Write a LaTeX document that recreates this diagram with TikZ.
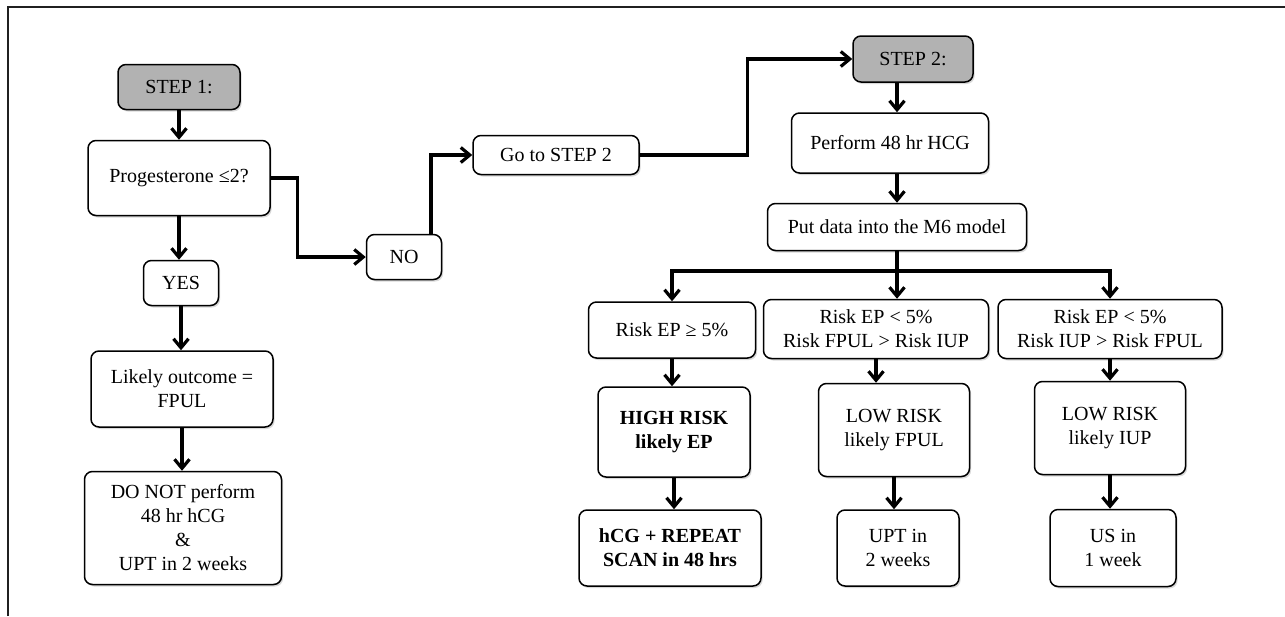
\documentclass[tikz,border=0pt]{standalone}
\usepackage{fontspec}
\setmainfont{Liberation Serif}
\usetikzlibrary{arrows.meta,shadows}
\begin{document}
\begin{tikzpicture}[x=0.5pt, y=-0.5pt,
    box/.style={draw, line width=0.75pt, rounded corners=4pt, fill=white,
      align=center, inner sep=0pt, font=\fontsize{10}{12}\selectfont,
      drop shadow={shadow xshift=0.8pt, shadow yshift=-1pt, opacity=0.3}},
    stepbox/.style={box, fill=gray!60},
    arrow/.style={line width=1.6pt, -{Straight Barb[length=4.5pt, width=7.5pt]}},
    link/.style={line width=1.6pt}]
  \useasboundingbox (0,0) rectangle (1285,616);
  \draw[line width=1pt, gray!25!black] (8,616) -- (8,7) -- (1285,7);

  \node[stepbox, minimum width=61pt, minimum height=22.5pt] (step1) at (179,87) {STEP 1:};
  \node[box, minimum width=91pt, minimum height=37.5pt] (prog) at (179,178) {Progesterone ≤2?};
  \node[box, minimum width=37.5pt, minimum height=22.5pt] (yes) at (181,283) {YES};
  \node[box, minimum width=91pt, minimum height=38pt] (likely) at (182,389) {Likely outcome =\\FPUL};
  \node[box, minimum width=98.5pt, minimum height=56.5pt] (donot) at (183,528)
    {DO NOT perform\\48 hr hCG\\\&\\UPT in 2 weeks};
  \node[box, minimum width=37.5pt, minimum height=22.5pt] (no) at (404,257) {NO};
  \node[box, minimum width=83pt, minimum height=19.5pt] (go) at (556,155) {Go to STEP 2};

  \node[stepbox, minimum width=60pt, minimum height=23pt] (step2) at (913,59) {STEP 2:};
  \node[box, minimum width=98.5pt, minimum height=30pt] (perform) at (890,143) {Perform 48 hr HCG};
  \node[box, minimum width=129.5pt, minimum height=23.5pt] (put) at (897,227) {Put data into the M6 model};

  \node[box, minimum width=83.5pt, minimum height=28pt] (risk0) at (672,330) {Risk EP ≥ 5\%};
  \node[box, minimum width=112.5pt, minimum height=29.5pt] (risk1) at (876,329)
    {Risk EP < 5\%\\Risk FPUL > Risk IUP};
  \node[box, minimum width=112pt, minimum height=29.5pt] (risk2) at (1110,329)
    {Risk EP < 5\%\\Risk IUP > Risk FPUL};

  \node[box, minimum width=76pt, minimum height=45pt] (class0) at (674,432) {\bfseries HIGH RISK\\\bfseries likely EP};
  \node[box, minimum width=75.5pt, minimum height=46.5pt] (class1) at (894,430) {LOW RISK\\likely FPUL};
  \node[box, minimum width=75.5pt, minimum height=46.5pt] (class2) at (1110,428) {LOW RISK\\likely IUP};

  \node[box, minimum width=91pt, minimum height=38pt] (plan0) at (670,548)
    {\bfseries hCG + REPEAT\\\bfseries SCAN in 48 hrs};
  \node[box, minimum width=61pt, minimum height=38pt] (plan1) at (898,548) {UPT in\\2 weeks};
  \node[box, minimum width=63pt, minimum height=38.5pt] (plan2) at (1113,548) {US in\\1 week};

  \foreach \a/\b in {step1/prog, prog/yes, yes/likely, likely/donot}
  {
    \draw[arrow] (\a.south) -- (\a.south |- \b.north);
  }

  \draw[arrow] (prog.east) -- ++(27,0) |- (no.west);
  \draw[arrow] ([xshift=13.5pt]no.north) |- (go.west);
  \draw[arrow] (go.east) -- ++(108,0) |- (step2.west);

  \draw[arrow] (step2.south -| put) -- (perform.north -| put);
  \draw[arrow] (perform.south -| put) -- (put.north);

  \coordinate (fork) at (897,271);
  \draw[link] (put.south) -- (fork);
  \draw[arrow] (fork) -| (risk0.north);
  \draw[arrow] (fork) -- (fork |- risk1.north);
  \draw[arrow] (fork) -| (risk2.north);

  \foreach \i in {0, 1, 2}
  {
    \draw[arrow] (risk\i.south) -- (risk\i.south |- class\i.north);
    \draw[arrow] (class\i.south) -- (class\i.south |- plan\i.north);
  }
\end{tikzpicture}
\end{document}
